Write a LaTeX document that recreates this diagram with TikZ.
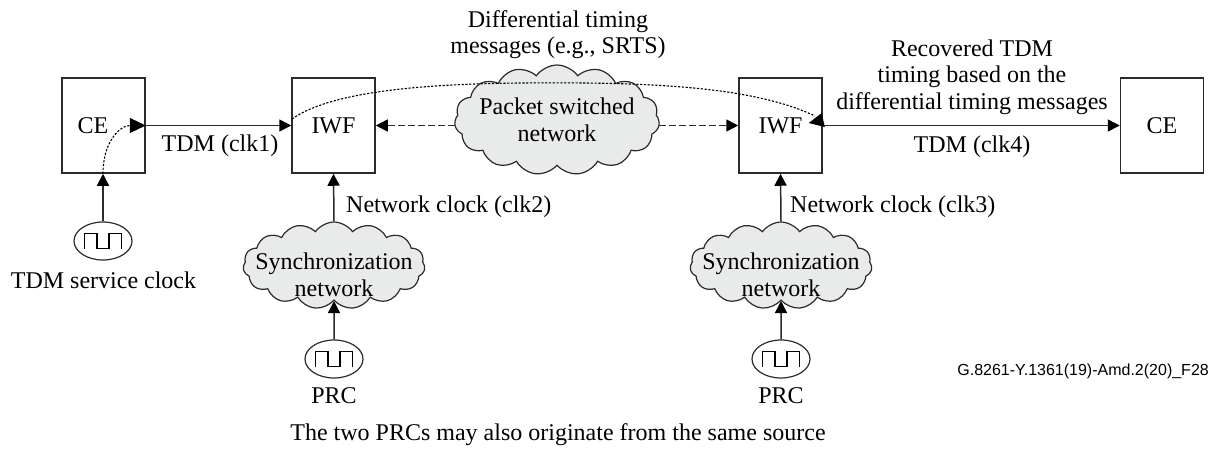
\documentclass[tikz,border=0pt]{standalone}
\usepackage{fontspec}
\setmainfont{Liberation Serif}
\newfontfamily\arialf{Liberation Sans}
\usetikzlibrary{shapes.symbols,shapes.geometric,arrows.meta,calc}
\definecolor{ink}{HTML}{2B2B2B}
\definecolor{cloudfill}{HTML}{E9EAEA}
\tikzset{
  x=1pt,y=-1pt,
  boxnode/.style={draw=ink,line width=1.5pt,minimum width=83pt,minimum height=95pt,inner sep=0pt,font=\fontsize{24}{26.5}\selectfont},
  cloudnode/.style={cloud,cloud puffs=15,cloud puff arc=110,draw=ink,fill=cloudfill,line width=1.2pt,inner sep=0pt},
  clocknode/.style={ellipse,draw=ink,line width=1.2pt,minimum width=58pt,minimum height=38pt,inner sep=0pt},
  lbl/.style={inner sep=0pt,align=center,font=\fontsize{24}{26.5}\selectfont},
  tip/.style={-{Triangle[length=12pt,width=12pt,color=black]}},
  bigtip/.style={-{Triangle[length=16pt,width=15pt,color=black]}},
  conn/.style={draw=ink,line width=1.5pt,tip},
  dconn/.style={conn,dash pattern=on 7pt off 3pt},
  dotc/.style={draw=black,line width=1.1pt,dash pattern=on 2.2pt off 1.6pt},
}
\newcommand{\pulse}[1]{\draw[black,line width=1.6pt] ($(#1)+(-18.5,7.5)$) -- ++(0,-15) -- ++(12.33,0) -- ++(0,15) -- ++(12.33,0) -- ++(0,-15) -- ++(12.33,0) -- ++(0,15);}
\begin{document}
\begin{tikzpicture}
\useasboundingbox (0,0) rectangle (1215,448);
\node[boxnode] (ce1) at (103.5,125.5) {\hspace*{-21pt}CE};
\node[boxnode] (iwf1) at (333.5,125.5) {IWF};
\node[boxnode] (iwf2) at (780.5,125.5) {IWF};
\node[boxnode] (ce2) at (1162,125.5) {CE};
\node[cloudnode,minimum width=205pt,minimum height=110pt,aspect=1.86] (pkt) at (557,120) {};
\node[lbl] (pkttext) at (557,120) {Packet switched\\network};
\node[cloudnode,minimum width=182pt,minimum height=87pt,aspect=2.09] (sync1) at (334,265.5) {};
\node[lbl] (s1text) at (334,275) {Synchronization\\network};
\node[cloudnode,minimum width=182pt,minimum height=87pt,aspect=2.09] (sync2) at (781,265.5) {};
\node[lbl] (s2text) at (781,275) {Synchronization\\network};
\node[clocknode] (clk0) at (103,241) {};
\node[clocknode] (clk1) at (334,359) {};
\node[clocknode] (clk2) at (781,359) {};
\pulse{clk0}\pulse{clk1}\pulse{clk2}
\draw[conn] (ce1.east) -- (iwf1.west);
\draw[conn] (iwf2.east) -- (ce2.west);
\draw[dconn] (pkt.west |- iwf1.east) -- (iwf1.east);
\draw[dconn] (pkt.east |- iwf2.west) -- (iwf2.west);
\draw[conn] (clk0.north) -- (ce1.south -| clk0.north);
\draw[conn] (sync1.north) -- (iwf1.south);
\draw[conn] (sync2.north) -- (iwf2.south);
\draw[conn] (clk1.north) -- (sync1.south);
\draw[conn] (clk2.north) -- (sync2.south);
\draw[dotc,bigtip] (ce1.south -| clk0.north) .. controls +(0,-32) and +(-26,0) .. (ce1.east);
\coordinate (dotstart) at (292,119);
\coordinate (dotmid) at (520,83);
\coordinate (dotend) at (815,116);
\draw[dotc] (dotstart) .. controls (330,92) and (420,84) .. (dotmid) .. controls (640,82) and (750,85) .. (dotend);
\fill[black] ($(iwf2.east)+(-14,-2.5)$) -- ($(iwf2.east)+(-1,-12.5)$) -- ($(iwf2.east)+(2,1.5)$) -- cycle;
\node[lbl] (t0) at (220,146) {TDM (clk1)};
\node[lbl] (t1) at (558,34.5) {Differential timing\\messages (e.g., SRTS)};
\node[lbl] (t2) at (972,77) {Recovered TDM\\timing based on the\\differential timing messages};
\node[lbl] (t3) at (972,147) {TDM (clk4)};
\node[lbl,anchor=west] (t4) at (346,207) {Network clock (clk2)};
\node[lbl,anchor=west] (t5) at (790,207) {Network clock (clk3)};
\node[lbl] (t6) at (103.5,280) {TDM service clock};
\node[lbl] (t7) at (334,396) {PRC};
\node[lbl] (t8) at (781,396) {PRC};
\node[inner sep=0pt,anchor=east,font=\arialf\fontsize{16}{18}\selectfont] (t9) at (1209,371) {G.8261-Y.1361(19)-Amd.2(20)\_F28};
\node[lbl] (t10) at (558,435) {The two PRCs may also originate from the same source};
\end{tikzpicture}
\end{document}
